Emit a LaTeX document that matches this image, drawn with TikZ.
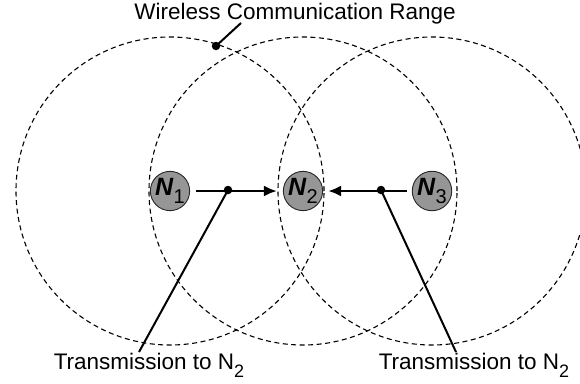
\documentclass[tikz,border=0pt]{standalone}
\usepackage{fontspec}
\setmainfont{Liberation Sans}
\usetikzlibrary{arrows,arrows.meta,positioning}
\definecolor{nodegray}{RGB}{150,150,150}
\newcommand{\lowsub}[1]{\raisebox{-0.35em}{\scalebox{0.8}{#1}}}

\begin{document}
\begin{tikzpicture}
		[x=1pt,y=-1pt,
		sensor/.style={draw=black!85,circle,fill=nodegray,minimum size=38pt,inner sep=0pt,line width=0.9pt,font=\fontsize{25}{28}\selectfont},
		commrange/.style={draw,dash pattern=on 5pt off 3.5pt,line width=1.1pt},
		junction/.style={circle,fill=black,minimum size=8.5pt,inner sep=0pt},
		lbl/.style={font=\fontsize{22.5}{26}\selectfont}]

			\useasboundingbox (0,0) rectangle (580,383);

			\node[sensor](n1) at (170,191) {\textbf{\textit{N}}\lowsub{1}};
			\node[sensor](n2) at (303,191) {\textbf{\textit{N}}\lowsub{2}};
			\node[sensor](n3) at (432,191) {\textbf{\textit{N}}\lowsub{3}};

			\draw[commrange] (n1.center) circle[radius=154pt];
			\draw[commrange] (n2.center) circle[radius=154pt];
			\draw[commrange] (n3.center) circle[radius=154pt];

			\node[junction](r) at (216,46) {};
			\node[junction](d1) at (228,190) {};
			\node[junction](d3) at (381,190) {};

			\node[lbl](wcr) at (295,14) {Wireless Communication Range};
			\node[lbl](t1) at (149,365) {Transmission to N\lowsub{2}};
			\node[lbl](t3) at (474,365) {Transmission to N\lowsub{2}};
			\coordinate (wcrend) at (241,23);
			\coordinate (t1top) at (139,352);
			\coordinate (t3top) at (456,352);

			\path[line width=2.5pt]
			(n1) edge[-{Latex[length=13pt,width=11pt]}, shorten <=6pt, shorten >=6pt] (n2)
			(n3) edge[-{Latex[length=13pt,width=11pt]}, shorten <=5pt, shorten >=5pt] (n2);
			\path[line width=2pt]
			(r.center) edge (wcrend)
			(d1.center) edge (t1top)
			(d3.center) edge (t3top);

	\end{tikzpicture}
\end{document}
